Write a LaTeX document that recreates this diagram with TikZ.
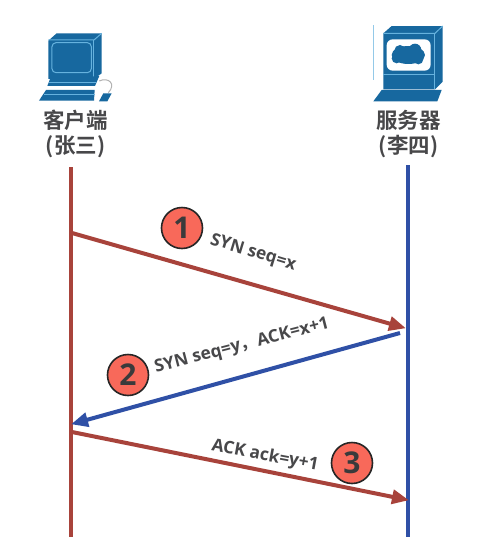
\documentclass[tikz,border=0pt]{standalone}
\usepackage{fontspec}
\setmainfont{Open Sans}
\newfontfamily\cjkb[BoldFont={Noto Sans CJK SC Bold}]{Noto Sans CJK SC}
\usetikzlibrary{arrows.meta}
\definecolor{rl}{HTML}{A8433B}
\definecolor{bl}{HTML}{2F50A6}
\definecolor{circ}{HTML}{F8695A}
\definecolor{txt}{HTML}{48484A}
\definecolor{icon}{HTML}{17689F}
\definecolor{iconl}{HTML}{66B2DE}
\tikzset{
  msgred/.style={rl,line width=4pt,-{Triangle[length=17pt,width=14pt]},shorten >=-1pt},
  msgblue/.style={bl,line width=4pt,-{Triangle[length=17pt,width=14pt]},shorten >=-1pt},
  numc/.style={circle,draw=black!85,line width=1.6pt,fill=circ,minimum size=41pt,inner sep=0pt,text=txt!80!black,font=\fontsize{30}{30}\selectfont\bfseries},
  msgt/.style={text=txt,inner sep=0pt,font=\fontsize{17.3}{19}\selectfont\bfseries},
  who/.style={text=txt,inner sep=0pt,font=\fontsize{21.5}{24}\cjkb\bfseries},
  zoomA/.style={shift={(20,10)},x=0.3333pt,y=-0.3333pt},
  zoomB/.style={shift={(350,10)},x=0.3333pt,y=-0.3333pt},
}
\begin{document}
\begin{tikzpicture}[x=1pt,y=-1pt]
\useasboundingbox[fill=white] (0,0) rectangle (488,560);
% client icon
\begin{scope}[zoomA]
  \fill[icon] (85,92) -- (110,70) -- (245,70) -- (245,190) -- (222,207) -- (85,207) -- cycle;
  \draw[iconl,line width=1pt] (85,90) -- (222,90) -- (245,70);
  \draw[iconl,line width=1pt] (222,90) -- (222,205);
  \draw[iconl,line width=1pt,rounded corners=4pt] (96,98) rectangle (214,188);
  \fill[icon] (90,207) -- (238,198) -- (225,228) -- (82,228) -- cycle;
  \draw[iconl,line width=1pt] (88,218) -- (228,218);
  \fill[icon] (78,240) -- (224,240) -- (222,272) -- (57,272) -- cycle;
  \draw[iconl,line width=0.8pt] (72,252) -- (224,252);
  \draw[black!30,line width=1pt] (238,213) .. controls (265,200) and (290,222) .. (265,248);
  \fill[icon] (250,250) -- (275,250) -- (262,274) -- (237,274) -- cycle;
\end{scope}
% server icon
\begin{scope}[zoomB]
  \draw[iconl!70,line width=0.8pt] (70,45) -- (70,210);
  \fill[icon] (100,70) -- (125,48) -- (278,48) -- (278,215) -- (255,238) -- (100,238) -- cycle;
  \draw[iconl,line width=1pt] (100,70) -- (255,70) -- (278,48);
  \draw[iconl,line width=1pt] (255,70) -- (255,238);
  \draw[iconl,line width=1pt] (100,195) -- (255,195);
  \fill[white,rounded corners=6pt] (110,88) rectangle (242,182);
  \fill[icon] (175,135) ellipse (50 and 27);
  \fill[icon] (150,122) circle (17);
  \fill[icon] (195,120) circle (19);
  \fill[icon] (140,145) circle (15);
  \fill[icon] (205,148) circle (15);
  \fill[icon] (95,240) -- (275,240) -- (262,274) -- (70,274) -- cycle;
\end{scope}
% labels
\node[who] (clienta) at (75.5,120) {客户端};
\node[who] (clientb) at (75.5,147) {(张三)};
\node[who] (servera) at (408.5,120) {服务器};
\node[who] (serverb) at (408.5,147) {(李四)};
% lifelines
\coordinate (ltop) at (71,167);
\coordinate (lbot) at (71,537);
\coordinate (rtop) at (408,165);
\coordinate (rbot) at (408,537);
\draw[rl,line width=4.5pt] (ltop) -- (lbot);
\draw[bl,line width=3.5pt] (rtop) -- (rbot);
% messages
\coordinate (a1s) at (72,233);
\coordinate (a1e) at (405,328);
\coordinate (a2s) at (400,333);
\coordinate (a2e) at (72,424);
\coordinate (a3s) at (72,432);
\coordinate (a3e) at (408,500);
\draw[msgred] (a1s) -- (a1e);
\draw[msgblue] (a2s) -- (a2e);
\draw[msgred] (a3s) -- (a3e);
\node[numc] (n1) at (182,228) {1};
\node[numc] (n2) at (128,375) {2};
\node[numc] (n3) at (352,463) {3};
\node[msgt,rotate=-17] (t1) at (253,253) {SYN seq=x};
\node[msgt,rotate=14.5] (t2) at (242,346) {SYN seq=y{\cjkb，}ACK=x+1};
\node[msgt,rotate=-10.5] (t3) at (265,456) {ACK ack=y+1};
\end{tikzpicture}
\end{document}
